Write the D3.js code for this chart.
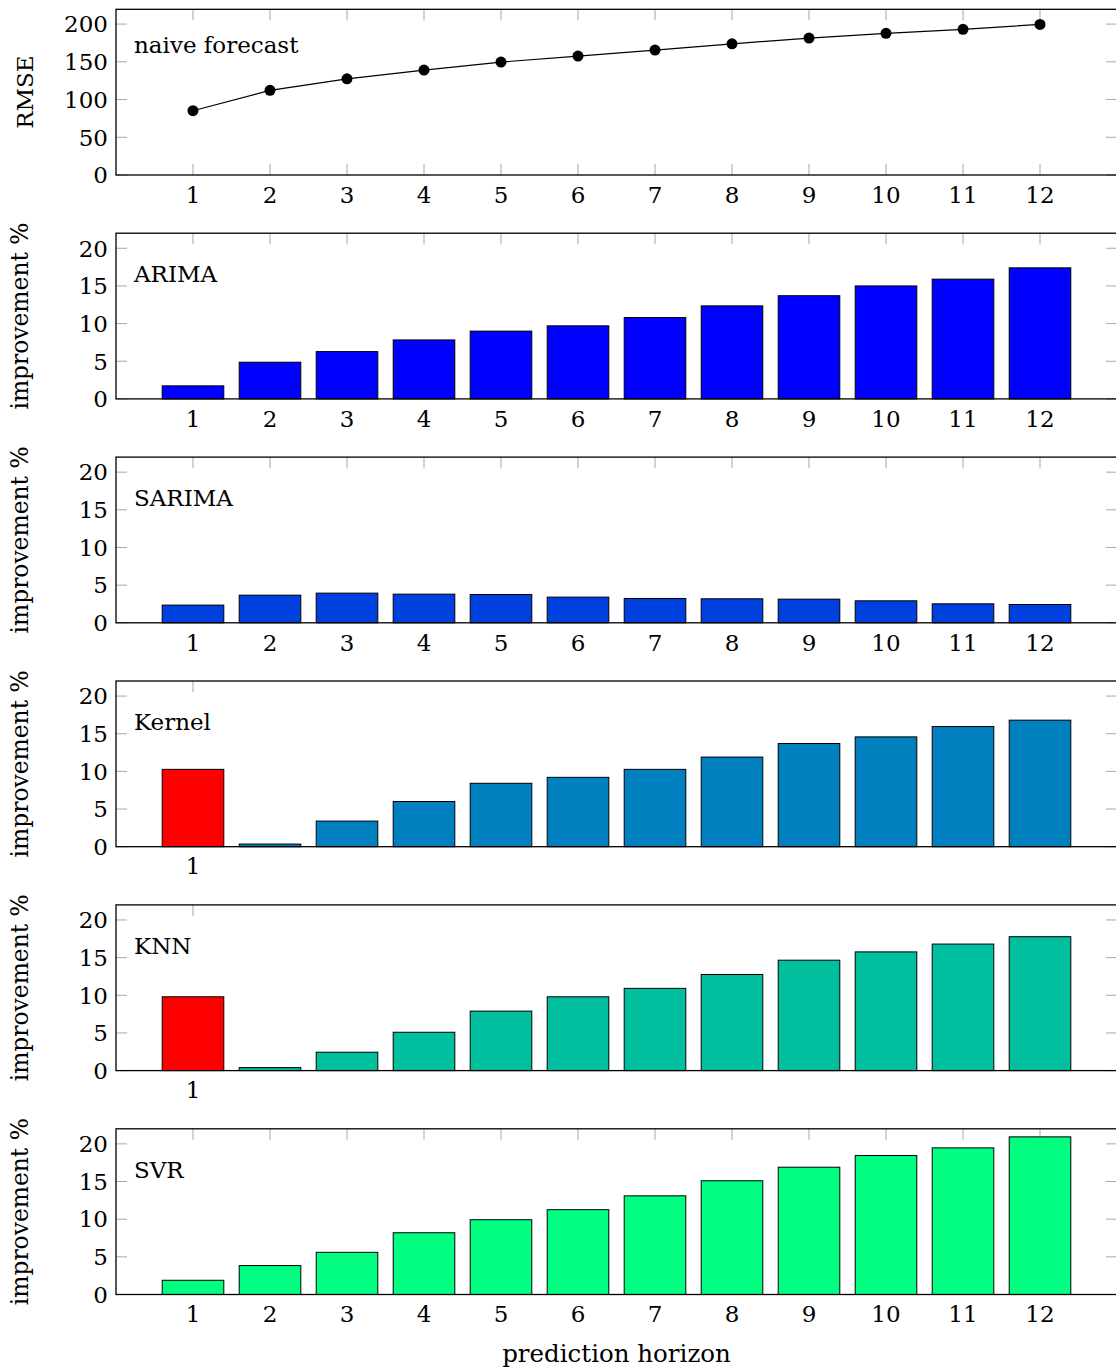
<!DOCTYPE html>
<html>
<head>
<meta charset="utf-8">
<script src="https://cdn.jsdelivr.net/npm/d3@7"></script>
<style>
  body { margin: 0; background: #fff; }
  svg { display: block; font-family: "DejaVu Serif", serif; }
</style>
</head>
<body>
<div id="chart"></div>
<script>
const horizons = [1, 2, 3, 4, 5, 6, 7, 8, 9, 10, 11, 12];

const rmseNaive = [85.2, 112.2, 127.5, 139, 149.7, 157.6, 165.6, 173.9, 181.5, 187.7, 193, 199.6];

const arima  = [1.73, 4.87, 6.28, 7.83, 9.0, 9.7, 10.8, 12.35, 13.7, 15.0, 15.9, 17.4];
const sarima = [2.35, 3.67, 3.94, 3.8, 3.76, 3.41, 3.23, 3.19, 3.14, 2.92, 2.52, 2.43];
const kernel = [10.27, 0.35, 3.4, 6.0, 8.42, 9.21, 10.27, 11.9, 13.7, 14.58, 15.95, 16.8];
const knn    = [9.8, 0.4, 2.44, 5.09, 7.9, 9.8, 10.92, 12.76, 14.66, 15.76, 16.8, 17.78];
const svr    = [1.89, 3.84, 5.6, 8.2, 9.93, 11.26, 13.1, 15.1, 16.9, 18.45, 19.47, 20.93];

const rmseTicks = [0, 50, 100, 150, 200];
const improvementTicks = [0, 5, 10, 15, 20];
const sparseTicks = [1];

const models = [
  { name: "ARIMA",  values: arima,  color: "#0000ff", xticks: horizons, red: [] },
  { name: "SARIMA", values: sarima, color: "#0040df", xticks: horizons, red: [] },
  { name: "Kernel", values: kernel, color: "#0080bf", xticks: sparseTicks, red: [1] },
  { name: "KNN",    values: knn,    color: "#00bf9f", xticks: sparseTicks, red: [1] },
  { name: "SVR",    values: svr,    color: "#00ff80", xticks: horizons, red: [] }
];

const W = 1116, H = 1371;
const left = 116, right = 1117;
const panelTop0 = 9.3, panelStep = 223.9, panelH = 165.7;
const tickLen = 11;

const svg = d3.select("#chart").append("svg")
  .attr("width", W).attr("height", H);

const x = d3.scaleLinear().domain([0, 13]).range([left, right]);

function frame(g, y, xticks, yticks, yfmt) {
  const [y0, y1] = y.range();
  const ticks = g.append("g").attr("stroke", "#a8a8a8").attr("stroke-width", 1);
  xticks.forEach(t => {
    ticks.append("line").attr("x1", x(t)).attr("x2", x(t)).attr("y1", y1).attr("y2", y1 + tickLen);
    ticks.append("line").attr("x1", x(t)).attr("x2", x(t)).attr("y1", y0).attr("y2", y0 - tickLen);
  });
  yticks.forEach(t => {
    ticks.append("line").attr("x1", left).attr("x2", left + tickLen).attr("y1", y(t)).attr("y2", y(t));
    ticks.append("line").attr("x1", right).attr("x2", right - tickLen).attr("y1", y(t)).attr("y2", y(t));
  });

  g.selectAll(".ylab").data(yticks).enter().append("text")
    .attr("x", 108).attr("y", d => y(d))
    .attr("dy", "0.36em")
    .attr("text-anchor", "end")
    .attr("font-size", "23px")
    .text(yfmt);

  g.selectAll(".xlab").data(xticks).enter().append("text")
    .attr("x", d => x(d)).attr("y", y0 + 27.7)
    .attr("text-anchor", "middle")
    .attr("font-size", "23px")
    .text(d => d);
}

function border(g, y) {
  const [y0, y1] = y.range();
  g.append("rect")
    .attr("x", left).attr("y", y1)
    .attr("width", right - left).attr("height", y0 - y1)
    .attr("fill", "none").attr("stroke", "#000").attr("stroke-width", 1.3);
}

// panel 1: naive forecast RMSE
{
  const top = panelTop0;
  const y = d3.scaleLinear().domain([0, 219.6]).range([top + panelH, top]);
  const g = svg.append("g");
  frame(g, y, horizons, rmseTicks, d => d);

  const line = d3.line().x((d, i) => x(horizons[i])).y(d => y(d));
  g.append("path").datum(rmseNaive)
    .attr("fill", "none").attr("stroke", "#000").attr("stroke-width", 1.2)
    .attr("d", line);
  g.selectAll("circle").data(rmseNaive).enter().append("circle")
    .attr("cx", (d, i) => x(horizons[i])).attr("cy", d => y(d))
    .attr("r", 5.5).attr("fill", "#000");

  border(g, y);
  g.append("text").attr("x", 134).attr("y", top + 44)
    .attr("font-size", "23px").text("naive forecast");
  g.append("text")
    .attr("transform", `translate(33,${top + panelH / 2}) rotate(-90)`)
    .attr("text-anchor", "middle").attr("font-size", "23px").text("RMSE");
}

// bar panels
models.forEach((m, k) => {
  const top = panelTop0 + (k + 1) * panelStep;
  const y = d3.scaleLinear().domain([0, 22]).range([top + panelH, top]);
  const g = svg.append("g");
  frame(g, y, m.xticks, improvementTicks, d => d);

  const bw = x(0.8) - x(0);
  g.selectAll(".bar").data(m.values).enter().append("rect")
    .attr("x", (d, i) => x(horizons[i]) - bw / 2)
    .attr("y", d => y(d))
    .attr("width", bw)
    .attr("height", d => y(0) - y(d))
    .attr("fill", (d, i) => m.red.includes(horizons[i]) ? "#ff0000" : m.color)
    .attr("stroke", "#000").attr("stroke-width", 1);

  border(g, y);
  g.append("text").attr("x", 134).attr("y", top + 49)
    .attr("font-size", "23px").text(m.name);
  g.append("text")
    .attr("transform", `translate(28,${top + panelH / 2}) rotate(-90)`)
    .attr("text-anchor", "middle").attr("font-size", "23.4px").text("improvement %");
});

svg.append("text")
  .attr("x", (left + right) / 2).attr("y", 1362)
  .attr("text-anchor", "middle").attr("font-size", "24.5px")
  .text("prediction horizon");
</script>
</body>
</html>
